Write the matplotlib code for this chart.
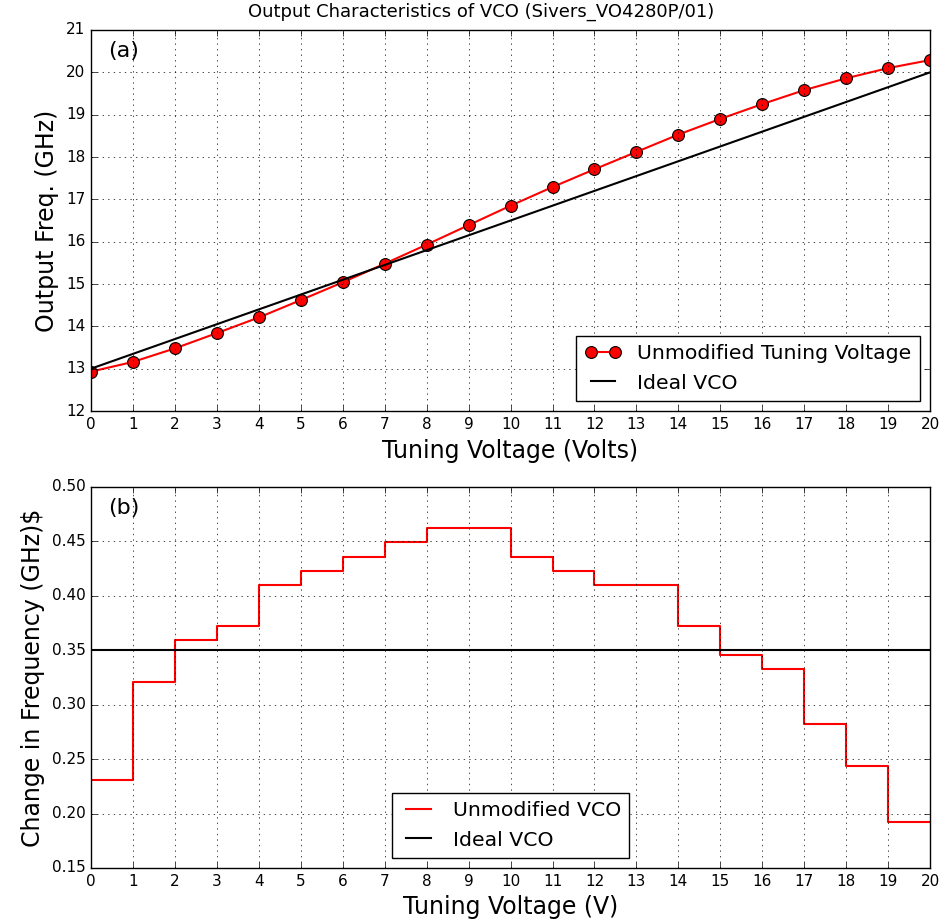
import numpy as np
import matplotlib
matplotlib.use('Agg')
import matplotlib.pyplot as plt

plt.style.use('classic')

# Tuning voltage (V)
volts = np.arange(0, 21)
# Measured output frequency (GHz)
freq = [12.93, 13.16, 13.48, 13.84, 14.21, 14.62, 15.04, 15.48, 15.93, 16.39,
        16.85, 17.29, 17.71, 18.12, 18.53, 18.90, 19.25, 19.58, 19.86, 20.10, 20.29]
# Ideal VCO endpoints
ideal_v = [0, 20]
ideal_f = [13.0, 20.0]

# Change in frequency per volt step (GHz)
step_v = np.arange(0, 21)
step_df = [0.231, 0.321, 0.359, 0.372, 0.410, 0.423, 0.436, 0.449, 0.462, 0.462,
           0.436, 0.423, 0.410, 0.410, 0.372, 0.346, 0.333, 0.282, 0.244, 0.192, 0.192]
ideal_df = 0.35

fig = plt.figure(figsize=(9.46, 9.23), dpi=100, facecolor='white')

# (a) output frequency
ax1 = fig.add_axes([0.0962, 0.5547, 0.887, 0.4128])
ax1.plot(volts, freq, 'r-o', lw=1.5, ms=8.5, mec='k', mew=0.8,
         label='Unmodified Tuning Voltage')
ax1.plot(ideal_v, ideal_f, 'k-', lw=1.5, label='Ideal VCO')
ax1.set_xlim(0, 20)
ax1.set_ylim(12, 21)
ax1.set_xticks(range(0, 21))
ax1.set_yticks(range(12, 22))
ax1.grid(True)
ax1.tick_params(labelsize=11)
ax1.set_xlabel('Tuning Voltage (Volts)', fontsize=17)
ax1.set_ylabel('Output Freq. (GHz)', fontsize=17)
fig.text(0.262, 0.987, 'Output Characteristics of VCO (Sivers_VO4280P/01)',
         fontsize=13, ha='left', va='center')
ax1.text(0.02, 0.97, '(a)', transform=ax1.transAxes, fontsize=16, va='top', ha='left')
ax1.legend(loc='lower right', fontsize=14.7, numpoints=2, handlelength=1.8)

# (b) frequency change per volt
ax2 = fig.add_axes([0.0962, 0.0596, 0.887, 0.4128])
ax2.plot(step_v, step_df, 'r-', lw=1.5, drawstyle='steps-post', label='Unmodified VCO')
ax2.axhline(ideal_df, color='k', lw=1.5, label='Ideal VCO')
ax2.set_xlim(0, 20)
ax2.set_ylim(0.15, 0.50)
ax2.set_xticks(range(0, 21))
ax2.set_yticks(np.arange(0.15, 0.501, 0.05))
ax2.grid(True)
ax2.tick_params(labelsize=11)
ax2.set_xlabel('Tuning Voltage (V)', fontsize=17)
ax2.set_ylabel('Change in Frequency (GHz)$', fontsize=17)
ax2.text(0.02, 0.97, '(b)', transform=ax2.transAxes, fontsize=16, va='top', ha='left')
ax2.legend(loc='lower center', fontsize=14.7, handlelength=1.8)

fig.savefig('out.png', dpi=100, facecolor='white')
